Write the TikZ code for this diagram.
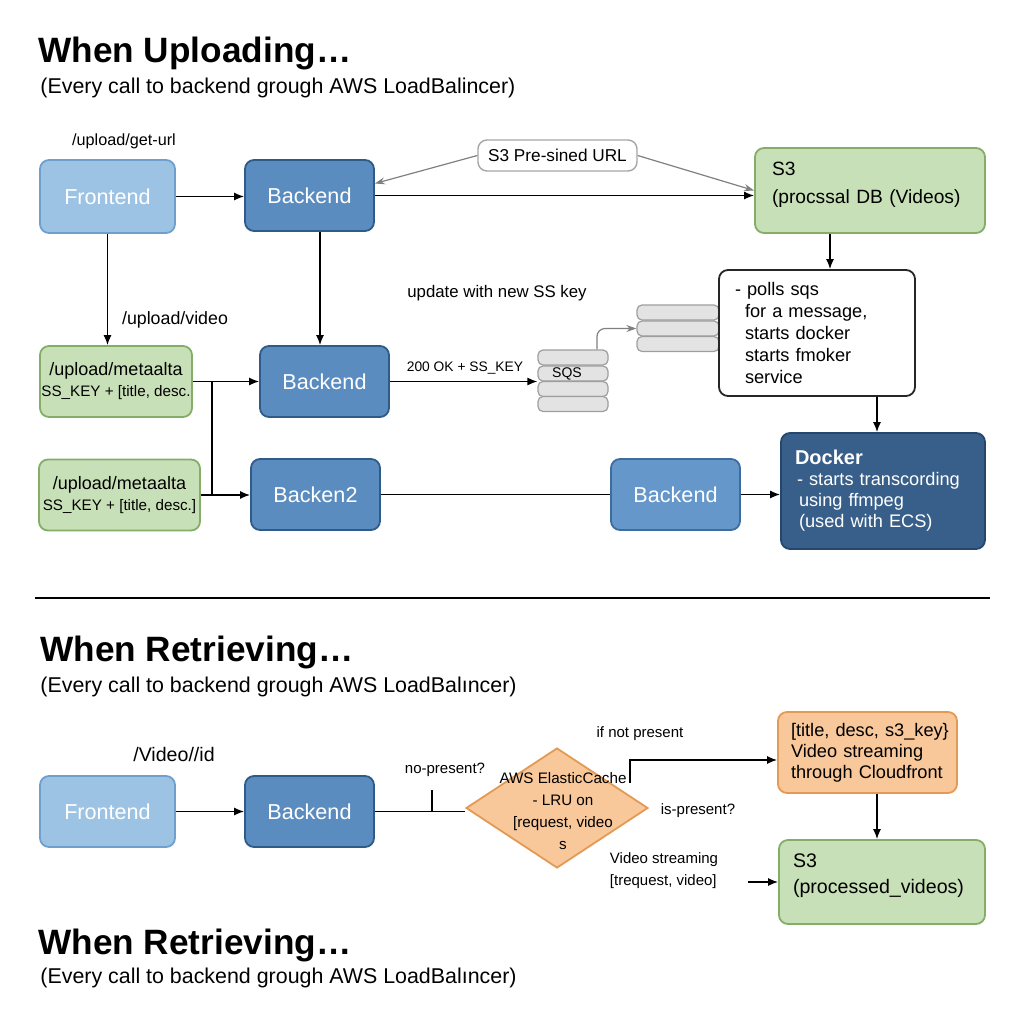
\documentclass[tikz,border=0pt]{standalone}
\usepackage{fontspec}
\setmainfont{Liberation Sans}
\usetikzlibrary{shapes.geometric,arrows.meta}

\definecolor{feblue}{HTML}{9DC3E4}
\definecolor{feline}{HTML}{6F9FCB}
\definecolor{beblue}{HTML}{5B8CBF}
\definecolor{beline}{HTML}{2F5B88}
\definecolor{belight}{HTML}{6597CA}
\definecolor{belightline}{HTML}{3D6D9E}
\definecolor{dkblue}{HTML}{385F8A}
\definecolor{dkline}{HTML}{25476D}
\definecolor{s3green}{HTML}{C8E0B7}
\definecolor{s3line}{HTML}{84AE68}
\definecolor{cfill}{HTML}{F8C79A}
\definecolor{cline}{HTML}{E39A55}
\definecolor{qfill}{HTML}{E3E3E3}
\definecolor{qline}{HTML}{9E9E9E}

\newcommand{\lowstrut}{\rule[-8pt]{0pt}{1pt}}

\tikzset{
    box/.style={draw, rounded corners=4.5pt, line width=0.9pt, inner sep=0pt, align=center},
    fe/.style={box, fill=feblue, draw=feline, text=white, font=\fontsize{10.8}{13}\selectfont,
        minimum width=67.5pt, minimum height=36.5pt},
    be/.style={box, fill=beblue, draw=beline, text=white, font=\fontsize{10.8}{13}\selectfont,
        minimum width=64.5pt, minimum height=35.5pt},
    meta/.style={box, fill=s3green, draw=s3line, font=\fontsize{7.6}{10.5}\selectfont, minimum height=35.5pt},
    s3/.style={box, fill=s3green, draw=s3line, align=left},
    qrow/.style={draw=qline, fill=qfill, rounded corners=2.5pt, line width=0.6pt, minimum width=35pt,
        minimum height=7.5pt, inner sep=0pt, font=\fontsize{7}{8}\selectfont},
    lbl/.style={font=\fontsize{7.5}{11}\selectfont, inner sep=0pt},
    head/.style={font=\fontsize{17.6}{20}\selectfont\bfseries, inner sep=0pt, anchor=base west},
    sub/.style={font=\fontsize{10.7}{13}\selectfont, inner sep=0pt, anchor=base west},
    arr/.style={-{Latex[length=5pt,width=4pt]}, line width=0.7pt},
    garr/.style={-{Stealth[length=5pt,width=3.5pt]}, draw=gray, line width=0.6pt},
    line/.style={line width=0.7pt}
}

\begin{document}
\begin{tikzpicture}[x=0.5pt,y=-0.5pt]
    \useasboundingbox (0,0) rectangle (1024,1024);

    % uploading
    \node[head] (h1) at (38,62) {When Uploading…};
    \node[sub] (s1) at (40,93) {(Every call to backend grough AWS LoadBalincer)};

    \node[fe] (fe1) at (107.5,196.5) {Frontend};
    \node[be] (be1) at (309.5,195.5) {Backend};
    \node[box, fill=white, draw=gray!70, line width=0.7pt, font=\fontsize{8.6}{10}\selectfont,
        minimum width=79.5pt, minimum height=15.5pt] (presign) at (557.5,155.5) {S3 Pre-sined URL};
    \node[s3, font=\fontsize{9.6}{14}\selectfont, minimum width=115pt, minimum height=42.5pt,
        text width=98pt, inner xsep=8.5pt] (s3a) at (870,190.5) {S3\\(procssal DB (Videos)\lowstrut};

    \node[lbl, font=\fontsize{8.1}{10}\selectfont] (geturl) at (124,141) {/upload/get-url};
    \node[lbl, font=\fontsize{8.9}{10}\selectfont] (vidlbl) at (175,320) {/upload/video};
    \node[lbl, font=\fontsize{8.4}{10}\selectfont] (updlbl) at (497,293) {update with new SS key};
    \node[lbl, font=\fontsize{6.9}{10}\selectfont] (oklbl) at (465,368) {200 OK + SS\_KEY};

    \node[meta, minimum width=76pt] (meta1) at (116,381.5)
        {{\fontsize{9}{10.5}\selectfont /upload/metaalta}\\SS\_KEY + {}[title, desc.};
    \node[be] (be2) at (324.5,381.5) {Backend};
    \node[meta, minimum width=80.5pt] (meta2) at (119.5,495)
        {{\fontsize{9}{10.5}\selectfont /upload/metaalta}\\SS\_KEY + {}[title, desc.]};
    \node[be] (be3) at (315.5,494.5) {Backen2};
    \node[be, fill=belight, draw=belightline] (be4) at (675.5,494.5) {Backend};

    \foreach \i/\y in {1/357.5, 2/373.5, 3/389, 4/404}
        \node[qrow] (q\i) at (573,\y) {};
    \node[lbl, font=\fontsize{7}{8}\selectfont] (sqs) at (567,373.5) {SQS};
    \foreach \i/\y in {1/312.5, 2/328.5, 3/344}
        \node[qrow, minimum width=41pt] (m\i) at (678,\y) {};

    \node[box, fill=white, draw=black!85, align=left, font=\fontsize{9.1}{11}\selectfont,
        minimum width=98pt, minimum height=63pt, text width=82pt, inner xsep=8pt] (polls) at (817,333)
        {- polls sqs\\\hspace*{5pt}for a message,\\\hspace*{5pt}starts docker\\\hspace*{5pt}starts fmoker\\\hspace*{5pt}service};
    \node[box, fill=dkblue, draw=dkline, text=white, align=left, font=\fontsize{9.1}{10.5}\selectfont,
        minimum width=102pt, minimum height=58pt, text width=88pt, inner xsep=7pt] (docker) at (883,491)
        {{\fontsize{10}{11}\selectfont\bfseries Docker}\\\hspace*{1pt}- starts transcording\\\hspace*{2pt}using ffmpeg\\\hspace*{2pt}(used with ECS)};

    \draw[arr] (fe1.east) -- (fe1.east -| be1.west);
    \draw[arr] (be1.east) -- (be1.east -| s3a.west);
    \draw[garr] (presign.west) -- ([yshift=6pt]be1.east);
    \draw[garr] (presign.east) -- (s3a.west);
    \draw[arr] (fe1.south) -- (fe1.south |- meta1.north);
    \draw[arr] ([xshift=5.25pt]be1.south) -- ([xshift=5.25pt]be1.south |- be2.north);
    \draw[arr] (meta1.east) -- (meta1.east -| be2.west);
    \coordinate (jn1) at (212,381.5);
    \coordinate (jn2) at (212,495);
    \draw[line] (jn1) -- (jn2);
    \draw[arr] (meta2.east) -- (meta2.east -| be3.west);
    \draw[line] (be3.east) -- (be3.east -| be4.west);
    \draw[arr] (be4.east) -- (be4.east -| docker.west);
    \draw[arr] (be2.east) -- (be2.east -| q2.west);
    \draw[garr, rounded corners=4pt] ([xshift=12pt]q1.north) |- (m2.west);
    \draw[arr] ([xshift=-20pt]s3a.south) -- ([xshift=-20pt]s3a.south |- polls.north);
    \draw[arr] ([xshift=30pt]polls.south) -- ([xshift=30pt]polls.south |- docker.north);

    \draw[line width=1.1pt] (35,598) -- (990,598);

    % retrieving
    \node[head] (h2) at (40,661) {When Retrieving…};
    \node[sub] (s2) at (40,692) {(Every call to backend grough AWS LoadBalıncer)};

    \node[lbl, font=\fontsize{9.8}{11}\selectfont] (vidid) at (174,754) {/Video//id};
    \node[fe, minimum height=35.5pt] (fe2) at (107.5,811.5) {Frontend};
    \node[be] (be5) at (309.5,811.5) {Backend};
    \node[diamond, draw=cline, fill=cfill, line width=0.9pt, minimum width=91pt, minimum height=60pt,
        inner sep=0pt] (cache) at (557,808) {};
    \node[lbl, align=center, font=\fontsize{7.6}{11}\selectfont] (cachetxt) at (563,811)
        {AWS ElasticCache\\- LRU on\\{}[request, video\\s};
    \node[box, fill=cfill, draw=cline, align=left, font=\fontsize{9.1}{10.5}\selectfont,
        minimum width=89.5pt, minimum height=40.5pt, text width=76.5pt, inner xsep=6.5pt] (cf) at (867.5,752.5)
        {\mbox{[title, desc, s3\_key\}}\\Video streaming\\through Cloudfront};
    \node[s3, font=\fontsize{9.8}{13}\selectfont, minimum width=103pt, minimum height=42pt,
        text width=89pt, inner xsep=7pt] (s3b) at (882,882) {S3\\(processed\_videos)\lowstrut};

    \node[lbl] (nopres) at (445,770) {no-present?};
    \node[lbl] (ifnot) at (640,734) {if not present};
    \node[lbl] (ispres) at (698,811) {is-present?};
    \node[lbl, align=left] (vstream) at (664,870.5) {Video streaming\\{}[trequest, video]};

    \draw[arr] (fe2.east) -- (fe2.east -| be5.west);
    \draw[line] (be5.east) -- (be5.east -| cache.west);
    \coordinate (tick) at (432,790);
    \draw[line] (tick) -- (tick |- be5.east);
    \coordinate (cup) at (630,783);
    \draw[arr] (cup) |- ([yshift=-3.75pt]cf.west);
    \draw[arr] ([xshift=4.75pt]cf.south) -- ([xshift=4.75pt]cf.south |- s3b.north);
    \coordinate (vs) at (748,882);
    \draw[arr] (vs) -- (vs -| s3b.west);

    \node[head] (h3) at (38,954) {When Retrieving…};
    \node[sub] (s3) at (40,983) {(Every call to backend grough AWS LoadBalıncer)};
\end{tikzpicture}
\end{document}
